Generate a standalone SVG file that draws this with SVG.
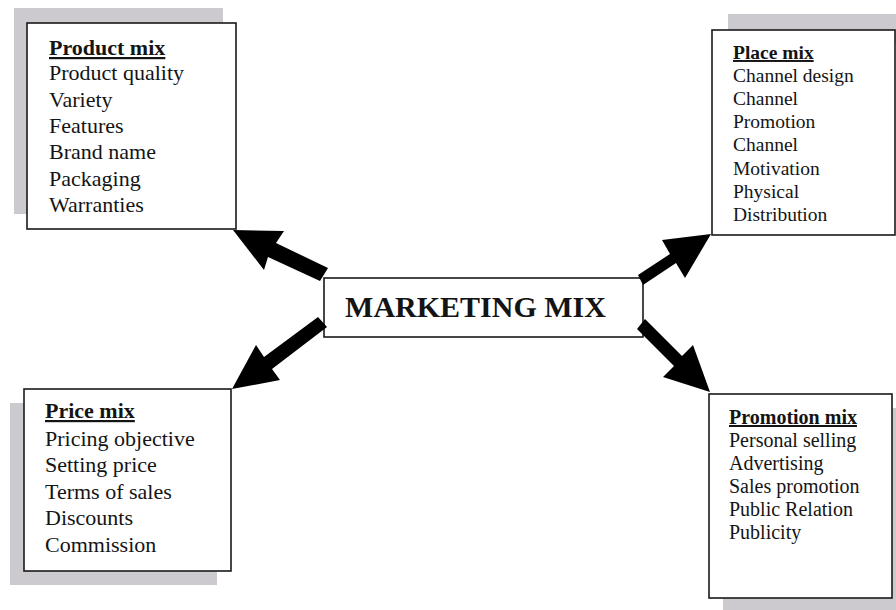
<svg xmlns="http://www.w3.org/2000/svg" width="896" height="610" viewBox="0 0 896 610">
  <style>
    .shadow { fill: #ccc9cf; }
    .box { fill: #ffffff; stroke: #1a1a1a; stroke-width: 1.6; }
    .txt { font-family: "Liberation Serif", "Times New Roman", serif; fill: #141414; }
    .head { font-weight: bold; text-decoration: underline; }
    .arrow { fill: #000000; }
  </style>
  <rect width="896" height="610" fill="#ffffff"/>

  <!-- Product mix -->
  <g id="product-mix">
    <rect class="shadow" x="14" y="8" width="209" height="206"/>
    <rect class="box" x="27" y="23" width="209" height="206"/>
    <text class="txt" x="49" font-size="22">
      <tspan class="head" x="49" y="55">Product mix</tspan>
      <tspan x="49" y="80">Product quality</tspan>
      <tspan x="49" y="106.5">Variety</tspan>
      <tspan x="49" y="133">Features</tspan>
      <tspan x="49" y="159">Brand name</tspan>
      <tspan x="49" y="185.5">Packaging</tspan>
      <tspan x="49" y="212">Warranties</tspan>
    </text>
  </g>

  <!-- Place mix -->
  <g id="place-mix">
    <rect class="shadow" x="728" y="14" width="170" height="30"/>
    <rect class="box" x="712" y="30" width="183" height="205"/>
    <text class="txt" font-size="19.5">
      <tspan class="head" x="733" y="59">Place mix</tspan>
      <tspan x="733" y="82">Channel design</tspan>
      <tspan x="733" y="105">Channel</tspan>
      <tspan x="733" y="128">Promotion</tspan>
      <tspan x="733" y="151">Channel</tspan>
      <tspan x="733" y="174.5">Motivation</tspan>
      <tspan x="733" y="198">Physical</tspan>
      <tspan x="733" y="221">Distribution</tspan>
    </text>
  </g>

  <!-- Price mix -->
  <g id="price-mix">
    <rect class="shadow" x="10" y="403" width="207" height="182"/>
    <rect class="box" x="24" y="389" width="207" height="182"/>
    <text class="txt" font-size="22">
      <tspan class="head" x="45" y="418">Price mix</tspan>
      <tspan x="45" y="446">Pricing objective</tspan>
      <tspan x="45" y="472">Setting price</tspan>
      <tspan x="45" y="498.5">Terms of sales</tspan>
      <tspan x="45" y="525">Discounts</tspan>
      <tspan x="45" y="551.5">Commission</tspan>
    </text>
  </g>

  <!-- Promotion mix -->
  <g id="promotion-mix">
    <rect class="shadow" x="723" y="408" width="183" height="204"/>
    <rect class="box" x="709" y="394" width="183" height="204"/>
    <text class="txt" font-size="20">
      <tspan class="head" x="729" y="424">Promotion mix</tspan>
      <tspan x="729" y="447">Personal selling</tspan>
      <tspan x="729" y="470">Advertising</tspan>
      <tspan x="729" y="493">Sales promotion</tspan>
      <tspan x="729" y="516">Public Relation</tspan>
      <tspan x="729" y="539">Publicity</tspan>
    </text>
  </g>

  <!-- Marketing mix (centre) -->
  <g id="marketing-mix">
    <rect class="box" x="324" y="278" width="319" height="59"/>
    <text class="txt" x="475.5" y="317" font-size="30" font-weight="bold" text-anchor="middle">MARKETING MIX</text>
  </g>

  <!-- Arrows from the centre to each mix -->
  <g id="connectors">
    <polygon class="arrow" points="233,230 284,231 276,243 328,268 320,281 268,257 264,270"/>
    <polygon class="arrow" points="711,234 662,240 670,254 638,275 643,285 676,263 685,278"/>
    <polygon class="arrow" points="232,389 256,345 264,357 318,317 327,327 272,369 280,380"/>
    <polygon class="arrow" points="710,392 693,345 682,356 645,319 637,329 674,366 663,377"/>
  </g>
</svg>
